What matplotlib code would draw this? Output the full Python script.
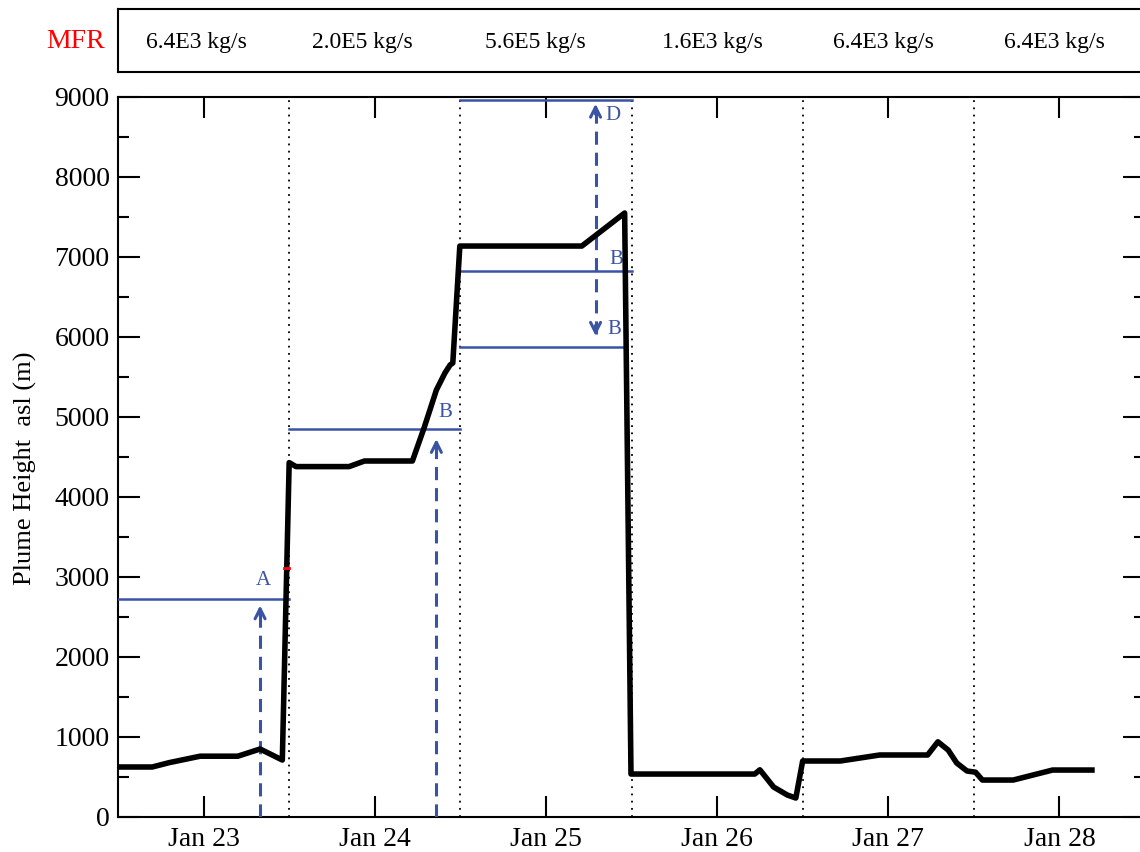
import matplotlib
matplotlib.use("Agg")
import matplotlib.pyplot as plt
from matplotlib.ticker import MultipleLocator, FixedLocator

plt.rcParams['font.family'] = ['Liberation Serif', 'DejaVu Serif']

# ---- data ----
day = [22.5, 22.70, 22.80, 22.98, 23.20, 23.33, 23.46, 23.50, 23.54, 23.85, 23.94, 24.22,
       24.29, 24.36, 24.41, 24.44, 24.456, 24.497, 25.21, 25.46, 25.497,
       26.22, 26.25, 26.33, 26.41, 26.46, 26.50, 26.72, 26.95, 27.23, 27.29,
       27.35, 27.40, 27.46, 27.51, 27.55, 27.73, 27.96, 28.19]
height = [625, 625, 680, 760, 760, 850, 712, 4430, 4380, 4380, 4450, 4450,
          4875, 5337, 5550, 5650, 5675, 7137, 7137, 7550, 537,
          537, 590, 375, 275, 237, 700, 700, 775, 775, 940,
          837, 675, 575, 560, 462, 462, 587, 587]

day_ticks = [23, 24, 25, 26, 27, 28]
day_labels = ['Jan 23', 'Jan 24', 'Jan 25', 'Jan 26', 'Jan 27', 'Jan 28']
boundaries = [23.5, 24.5, 25.5, 26.5, 27.5]
mfr_labels = ['6.4E3 kg/s', '2.0E5 kg/s', '5.6E5 kg/s', '1.6E3 kg/s', '6.4E3 kg/s', '6.4E3 kg/s']
mfr_pos = [22.96, 23.93, 24.94, 25.97, 26.97, 27.97]

# blue reference levels
levels = [2730, 4850, 8960, 6825, 5875]
level_x0 = [22.5, 23.5, 24.5, 24.5, 24.5]
level_x1 = [23.5, 24.5, 25.5, 25.5, 25.47]
level_labels = ['A', 'B', '', 'B', 'B']
label_x = [23.35, 24.41, 25.41, 25.41, 25.40]
label_y = [2960, 5060, 8775, 6975, 6090]

# dashed arrows
arrow_x = [23.33, 24.36]
arrow_top = [2680, 4760]
double_x = 25.29
double_top = 8950
double_bottom = 5980
double_label_x = 25.39
double_label_y = 8775

red_mark_y = 3110

blue = '#3a53a4'

fig = plt.figure(figsize=(11.4, 8.52), dpi=100)
W, H = 1140, 852
ax = fig.add_axes([118 / W, (H - 817) / H, (1145 - 118) / W, 720 / H])
box = fig.add_axes([118 / W, (H - 72) / H, (1145 - 118) / W, 63 / H])

# main line
ax.plot(day, height, color='black', lw=4, solid_joinstyle='round', zorder=5)

# boundaries
for b in boundaries:
    ax.plot([b, b], [0, 9000], color='black', lw=1.3, linestyle=(0, (1, 3)), zorder=1)

# horizontal blue levels
for v, x0, x1, lab, lx, ly in zip(levels, level_x0, level_x1, level_labels, label_x, label_y):
    ax.plot([x0, x1], [v, v], color=blue, lw=1.8, zorder=3)
    if lab:
        ax.text(lx, ly, lab, color=blue, fontsize=15, ha='center', va='center')

ax.text(double_label_x, double_label_y, 'D', color=blue, fontsize=15, ha='center', va='center')

dash = (0, (4.3, 2.6))
for x, top in zip(arrow_x, arrow_top):
    ax.plot([x, x], [0, top - 60], color=blue, lw=2.2, linestyle=dash, zorder=4)
    ax.annotate('', xy=(x, top), xytext=(x, top - 200),
                arrowprops=dict(arrowstyle='->', color=blue, lw=2.2, mutation_scale=18))

ax.plot([double_x, double_x], [double_bottom + 60, double_top - 60], color=blue, lw=2.2,
        linestyle=dash, zorder=4)
ax.annotate('', xy=(double_x, double_top), xytext=(double_x, double_top - 200),
            arrowprops=dict(arrowstyle='->', color=blue, lw=2.2, mutation_scale=18))
ax.annotate('', xy=(double_x, double_bottom), xytext=(double_x, double_bottom + 200),
            arrowprops=dict(arrowstyle='->', color=blue, lw=2.2, mutation_scale=18))

# red mark
ax.plot([23.47, 23.50], [red_mark_y, red_mark_y], color='red', lw=2, zorder=6)

ax.set_xlim(22.5, 28.5)
ax.set_ylim(0, 9000)
ax.xaxis.set_major_locator(FixedLocator(day_ticks))
ax.set_xticklabels(day_labels)
ax.yaxis.set_major_locator(MultipleLocator(1000))
ax.yaxis.set_minor_locator(MultipleLocator(500))
ax.tick_params(axis='x', which='major', direction='in', length=15, width=1.5,
               top=True, bottom=True, labelsize=20, pad=7.5)
ax.tick_params(axis='y', which='major', direction='in', length=16, width=1.5,
               left=True, right=True, labelsize=20, pad=6)
ax.tick_params(axis='y', which='minor', direction='in', length=8, width=1.5,
               left=True, right=True)
for s in ax.spines.values():
    s.set_linewidth(1.5)

fig.text(25 / W, 1 - 468 / H, 'Plume Height  asl (m)', rotation=90, fontsize=19,
         ha='center', va='center')

# top MFR box
box.set_xlim(22.5, 28.5)
box.set_ylim(0, 1)
box.set_xticks([])
box.set_yticks([])
for s in box.spines.values():
    s.set_linewidth(1.5)
for p, lab in zip(mfr_pos, mfr_labels):
    box.text(p, 0.47, lab, fontsize=17, ha='center', va='center')
fig.text(76 / W, 1 - 41 / H, 'MFR', color='red', fontsize=20, ha='center', va='center')

fig.savefig('out.png', dpi=100)
